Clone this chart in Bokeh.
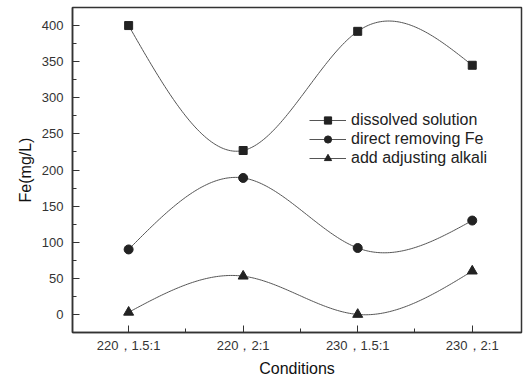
import numpy as np
from bokeh.plotting import figure
from bokeh.models import FixedTicker, SingleIntervalTicker, Legend, LegendItem, Range1d
from bokeh.embed import file_html
from bokeh.resources import INLINE

categories = ["220，1.5:1", "220，2:1", "230，1.5:1", "230，2:1"]
dissolved = [400, 227, 392, 345]
direct_fe = [90, 189, 92, 130]
alkali = [3, 53, 0, 60]
series_names = ["dissolved solution", "direct removing Fe", "add adjusting alkali"]


def natural_spline(xs, ys, n=200):
    xs = np.asarray(xs, float); ys = np.asarray(ys, float)
    k = len(xs); h = np.diff(xs)
    A = np.zeros((k, k)); b = np.zeros(k)
    A[0, 0] = A[-1, -1] = 1
    for i in range(1, k - 1):
        A[i, i - 1] = h[i - 1]; A[i, i] = 2 * (h[i - 1] + h[i]); A[i, i + 1] = h[i]
        b[i] = 6 * ((ys[i + 1] - ys[i]) / h[i] - (ys[i] - ys[i - 1]) / h[i - 1])
    M = np.linalg.solve(A, b)
    xx = np.linspace(xs[0], xs[-1], n); yy = np.empty_like(xx)
    for j, x in enumerate(xx):
        i = min(np.searchsorted(xs, x, side="right") - 1, k - 2)
        t0 = xs[i + 1] - x; t1 = x - xs[i]
        yy[j] = (M[i] * t0**3 + M[i + 1] * t1**3) / (6 * h[i]) \
            + (ys[i] / h[i] - M[i] * h[i] / 6) * t0 + (ys[i + 1] / h[i] - M[i + 1] * h[i] / 6) * t1
    return xx, yy


xpos = list(range(1, len(categories) + 1))
FONT = "Liberation Sans"

p = figure(width=523, height=380, output_backend="svg", toolbar_location=None,
           x_range=Range1d(0.51, 4.43), y_range=Range1d(-25, 425),
           min_border_left=72, min_border_right=2, min_border_top=7, min_border_bottom=48)
p.background_fill_color = "white"
p.border_fill_color = "white"
p.outline_line_color = "#333333"
p.outline_line_width = 1.5
p.xgrid.visible = False
p.ygrid.visible = False

line_col = "#555555"
items = []
for ys, name, marker in zip([dissolved, direct_fe, alkali], series_names, ["square", "circle", "triangle"]):
    xx, yy = natural_spline(xpos, ys)
    r_line = p.line(xx, yy, line_color=line_col, line_width=1)
    if marker == "square":
        r_m = p.scatter(xpos, ys, marker="square", size=8, fill_color="#222222", line_color="#222222")
    elif marker == "circle":
        r_m = p.scatter(xpos, ys, marker="circle", size=9, fill_color="#222222", line_color="#222222")
    else:
        r_m = p.scatter(xpos, ys, marker="triangle", size=10, fill_color="#222222", line_color="#222222")
    items.append(LegendItem(label=name, renderers=[r_line, r_m]))

legend = Legend(items=items, location=(237, 165), border_line_color=None, background_fill_alpha=0,
                label_text_font=FONT, label_text_font_size="16px", label_text_color="#222222",
                glyph_width=37, glyph_height=18, spacing=1, padding=0, margin=0,
                label_standoff=5, label_height=18)
p.add_layout(legend, "center")

p.xaxis.ticker = FixedTicker(ticks=xpos, minor_ticks=[1.5, 2.5, 3.5])
p.xaxis.major_label_overrides = {i: c for i, c in zip(xpos, categories)}
p.yaxis.ticker = SingleIntervalTicker(interval=50, num_minor_ticks=2)

for ax in (p.xaxis, p.yaxis):
    ax.axis_line_color = "#333333"
    ax.axis_line_width = 1.5
    ax.major_tick_line_color = "#333333"
    ax.minor_tick_line_color = "#333333"
    ax.major_tick_in = 7
    ax.major_tick_out = 0
    ax.minor_tick_in = 4
    ax.minor_tick_out = 0
    ax.major_label_text_font = FONT
    ax.major_label_text_font_size = "13px"
    ax.major_label_text_color = "#333333"
    ax.axis_label_text_font = FONT
    ax.axis_label_text_font_style = "normal"
    ax.axis_label_text_font_size = "16px"
    ax.axis_label_text_color = "#111111"

p.xaxis.axis_label = "Conditions"
p.yaxis.axis_label = "Fe(mg/L)"
p.xaxis.major_label_standoff = 5
p.xaxis.axis_label_standoff = 4
p.yaxis.major_label_standoff = 9
p.yaxis.axis_label_standoff = 5

open("out.html", "w").write(file_html(p, INLINE))
